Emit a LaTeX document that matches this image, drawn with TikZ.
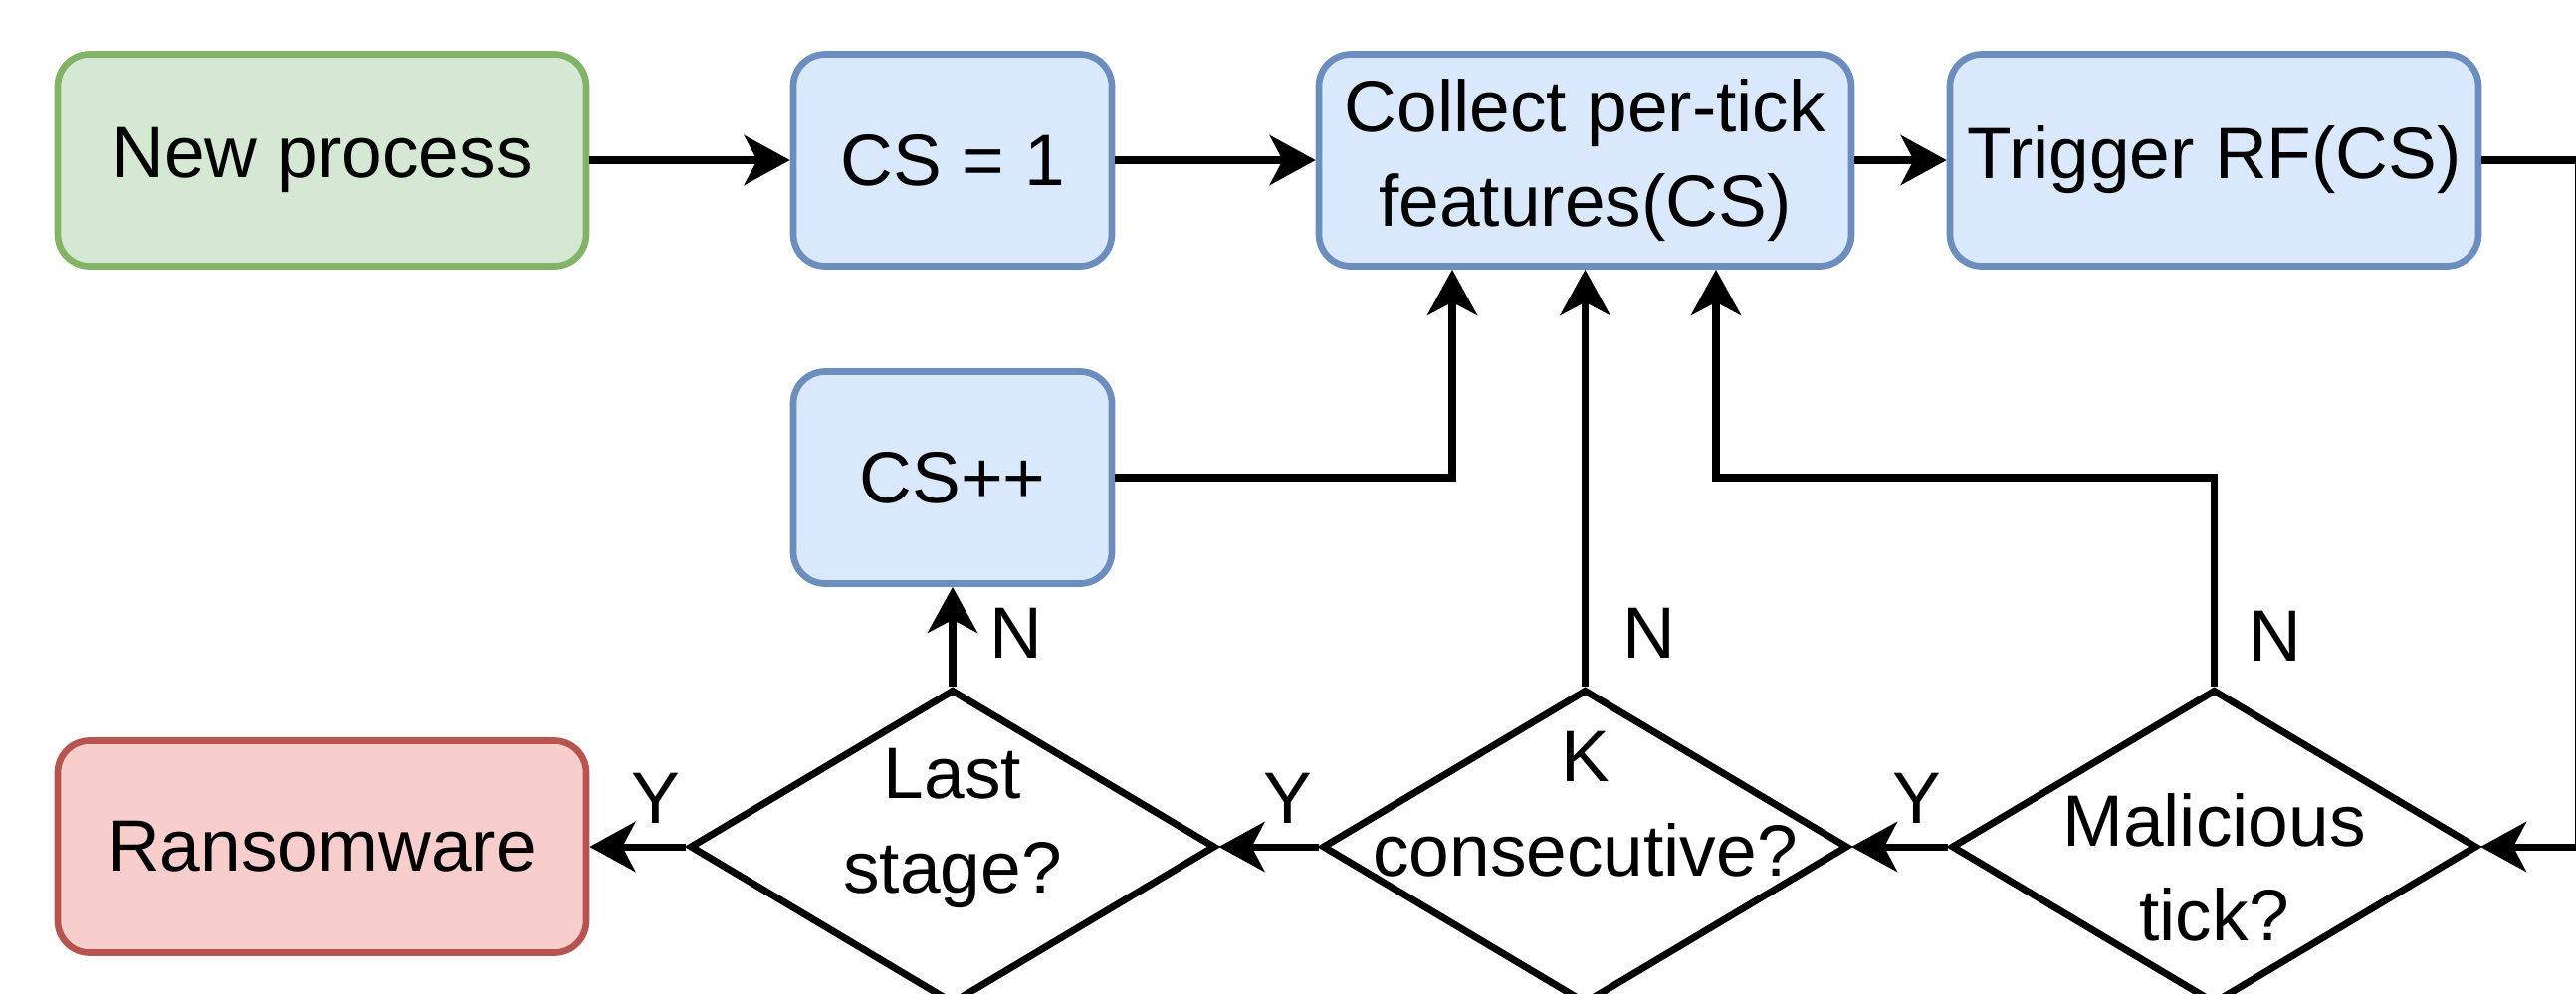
\documentclass[tikz,border=0pt]{standalone}
\usepackage{fontspec}
\setmainfont{Liberation Sans}
\usetikzlibrary{shapes.geometric,arrows.meta}

\definecolor{startfill}{HTML}{D5E8D4}
\definecolor{startline}{HTML}{82B366}
\definecolor{stepfill}{HTML}{DAE8FC}
\definecolor{stepline}{HTML}{6C8EBF}
\definecolor{endfill}{HTML}{F8CECC}
\definecolor{endline}{HTML}{B85450}

\tikzset{
  txt/.style={font=\fontsize{20.8}{27}\selectfont, align=center},
  box/.style={txt, draw, rounded corners=0.32cm, line width=1.9pt,
    minimum height=2.13cm, inner sep=0pt},
  widebox/.style={box, minimum width=5.31cm},
  smallbox/.style={box, minimum width=3.2cm},
  test/.style={draw, diamond, line width=2pt, inner sep=0pt,
    minimum width=5.28cm, minimum height=3.16cm},
  flow/.style={line width=2pt, ->,
    >={Stealth[length=0.46cm,width=0.5cm,inset=0.13cm]}},
  yes/.style={txt, anchor=south east, inner sep=0pt, xshift=-0.03cm, yshift=0.2cm},
  no/.style={txt, anchor=south west, inner sep=0pt, xshift=0.34cm, yshift=0.24cm}
}

\begin{document}
\begin{tikzpicture}
  \clip (0,0) rectangle (25.88,-9.98);

  % top row
  \node[widebox, fill=startfill, draw=startline] (NewProc) at (3.235,-1.61) {New process};
  \node[smallbox, fill=stepfill, draw=stepline] (CSone) at (9.57,-1.61) {CS = 1};
  \node[widebox, minimum width=5.35cm, fill=stepfill, draw=stepline] (Collect) at (15.925,-1.61) {Collect per-tick\\features(CS)};
  \node[widebox, fill=stepfill, draw=stepline] (Trigger) at (22.245,-1.61) {Trigger RF(CS)};

  % middle
  \node[smallbox, fill=stepfill, draw=stepline] (CSinc) at (9.57,-4.80) {CS++};

  % bottom row
  \node[widebox, fill=endfill, draw=endline] (Ransom) at (3.235,-8.51) {Ransomware};
  \node[test] (Last) at (9.57,-8.51) {};
  \node[test] (Kcons) at (15.925,-8.51) {};
  \node[test] (Malic) at (22.245,-8.51) {};
  \node[txt] (LastTxt) at ([yshift=0.19cm]Last.center) {Last\\stage?};
  \node[txt] (KconsTxt) at ([yshift=0.43cm]Kcons.center) {K\\consecutive?};
  \node[txt] (MalicTxt) at ([yshift=-0.21cm]Malic.center) {Malicious\\tick?};

  % bends
  \coordinate (IncUp) at (14.59,-4.80);
  \coordinate (MalTurn) at (22.245,-4.80);
  \coordinate (MalUp) at (17.24,-4.80);
  \coordinate (EdgeTop) at (25.9,-1.61);

  \draw[flow] (NewProc) -- (CSone);
  \draw[flow] (CSone) -- (Collect);
  \draw[flow] (Collect) -- (Trigger);
  \draw[flow] (Trigger.east) -- (EdgeTop) |- (Malic.east);

  \draw[flow] (Malic.west) -- (Kcons.east) node[yes, pos=0] {Y};
  \draw[flow] (Kcons.west) -- (Last.east) node[yes, pos=0] {Y};
  \draw[flow] (Last.west) -- (Ransom.east) node[yes, pos=0] {Y};

  \draw[flow] (Last.north) -- (CSinc.south) node[no, pos=0] {N};
  \draw[flow] (Kcons.north) -- (Collect.south) node[no, pos=0] {N};
  \draw[flow] (Malic.north) -- (MalTurn) -- (MalUp) -- (MalUp |- Collect.south);
  \node[no] (MalN) at (Malic.north) {N};
  \draw[flow] (CSinc.east) -- (IncUp) -- (IncUp |- Collect.south);
\end{tikzpicture}
\end{document}
